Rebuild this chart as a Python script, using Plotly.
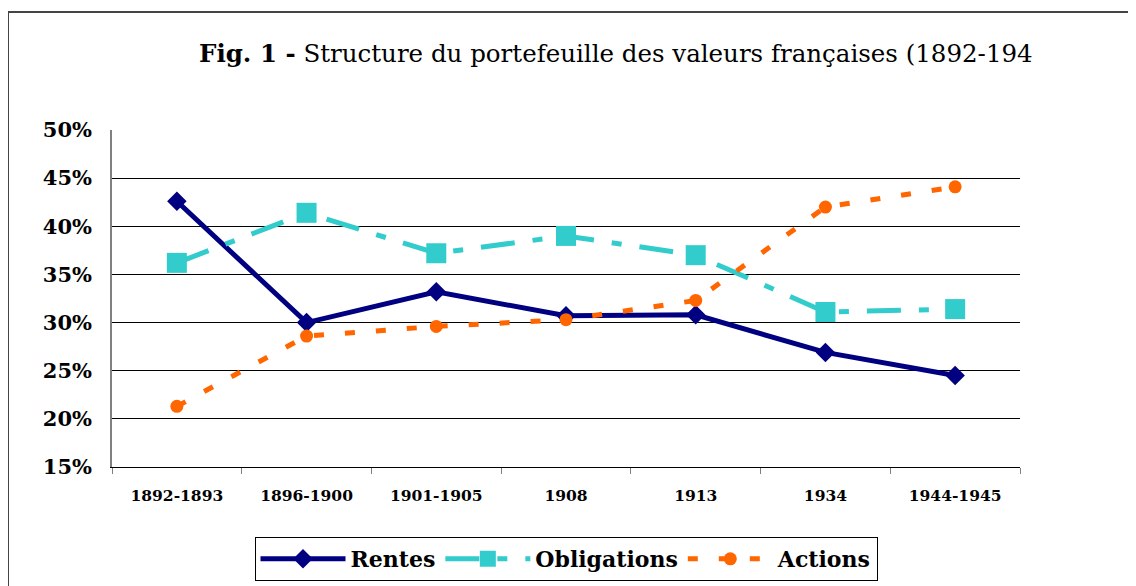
import plotly.graph_objects as go

categories = ["1892-1893", "1896-1900", "1901-1905", "1908", "1913", "1934", "1944-1945"]
rentes = [42.6, 30.0, 33.2, 30.7, 30.8, 26.9, 24.5]
obligations = [36.2, 41.4, 37.2, 39.0, 37.0, 31.1, 31.4]
actions = [21.3, 28.6, 29.6, 30.3, 32.3, 42.0, 44.1]
y_ticks = [15, 20, 25, 30, 35, 40, 45, 50]
y_labels = [f"{v}%" for v in y_ticks]

W, H = 1136, 586
OFF = 8  # page body margin
L, R, T, B = 112 - OFF, 1020 - OFF, 130 - OFF, 467 - OFF

def px_x(p):
    return (p - OFF - L) / (R - L)

def px_y(p):
    return (B - (p - OFF)) / (B - T)

SERIF = "DejaVu Serif, Liberation Serif, serif"

fig = go.Figure()
fig.add_trace(go.Scatter(
    x=categories, y=rentes, name="Rentes", mode="lines+markers",
    line=dict(color="#000080", width=5),
    marker=dict(symbol="diamond", size=15, color="#000080"),
))
fig.add_trace(go.Scatter(
    x=categories, y=obligations, name="Obligations", mode="lines+markers",
    line=dict(color="#33CCCC", width=5, dash="34px,18px,10px,18px"),
    marker=dict(symbol="square", size=20, color="#33CCCC"),
))
fig.add_trace(go.Scatter(
    x=categories, y=actions, name="Actions", mode="lines+markers",
    line=dict(color="#FF6600", width=5, dash="10px,21px"),
    marker=dict(symbol="circle", size=13, color="#FF6600"),
))

fig.update_layout(
    width=W, height=H,
    margin=dict(l=L, r=W - R, t=T, b=H - B, autoexpand=False),
    paper_bgcolor="white", plot_bgcolor="white",
    showlegend=True,
    legend=dict(
        orientation="h", x=0.5, xanchor="center", y=px_y(537), yanchor="top",
        bordercolor="black", borderwidth=1, bgcolor="white",
        font=dict(family=SERIF, size=22, color="black", weight="bold"),
        itemwidth=85,
    ),
    annotations=[dict(
        text="<b>Fig. 1 -</b> Structure du portefeuille des valeurs françaises (1892-194",
        xref="paper", yref="paper", x=px_x(197), y=px_y(53),
        xanchor="left", yanchor="middle", showarrow=False,
        font=dict(family=SERIF, size=24.5, color="black"),
    )],
    shapes=[dict(
        type="rect", xref="paper", yref="paper",
        x0=px_x(8), x1=px_x(1160), y0=px_y(610), y1=px_y(12),
        line=dict(color="#444444", width=2), fillcolor="rgba(0,0,0,0)",
        layer="below",
    )],
)

fig.update_xaxes(
    type="category", range=[-0.5, 6.5], automargin=False,
    showgrid=False, showline=True, linecolor="black", linewidth=1,
    ticks="outside", tickson="boundaries", ticklen=6, tickcolor="#808080",
    tickfont=dict(family=SERIF, size=15.5, color="black", weight="bold"),
    ticklabelstandoff=14,
)
fig.update_yaxes(
    range=[15, 50], tickvals=y_ticks, ticktext=y_labels, automargin=False,
    showgrid=True, gridcolor="black", gridwidth=1,
    showline=True, linecolor="#808080", linewidth=1.5,
    zeroline=False, ticks="",
    tickfont=dict(family=SERIF, size=21, color="black", weight="bold"),
    ticklabelstandoff=14,
)

fig.write_html("out.html")
